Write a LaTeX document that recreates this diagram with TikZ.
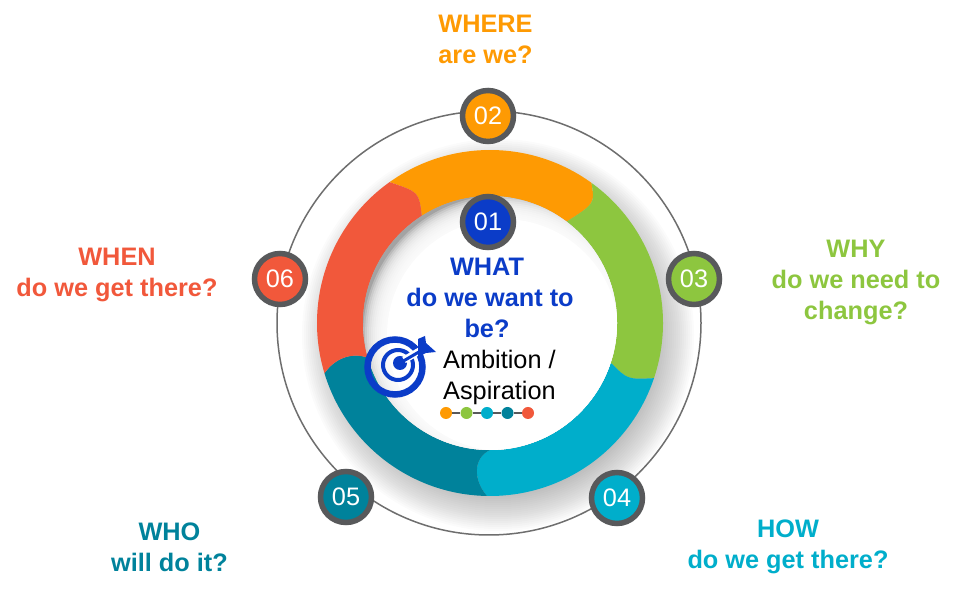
\documentclass[tikz,border=0pt]{standalone}
\usepackage{fontspec}
\setmainfont{Liberation Sans}
\definecolor{ringorange}{HTML}{FE9A03}
\definecolor{ringgreen}{HTML}{8DC63F}
\definecolor{ringblue}{HTML}{00AECB}
\definecolor{ringteal}{HTML}{00829B}
\definecolor{ringred}{HTML}{F1583B}
\definecolor{whatblue}{HTML}{0B3CC8}
\definecolor{edgegray}{HTML}{58595B}
\definecolor{orbitgray}{HTML}{6E6E6E}
\tikzset{
  badgenode/.style={
    circle, draw=edgegray, line width=5.5pt, minimum size=51pt, inner sep=0pt,
    text=white, font=\fontsize{25.3}{31}\selectfont
  },
  asknode/.style={
    align=center, inner sep=0pt,
    font=\fontsize{25.3}{31}\selectfont\bfseries
  },
  dotnode/.style={circle, minimum size=12pt, inner sep=0pt},
  chain/.style={draw=edgegray, line width=1.5pt}
}
% outer arc, rounded head, inner arc, hollow tail
\newcommand{\ringseg}[7]{
  \fill[#1] ([shift={(#2:173)}]c) arc[start angle=#2, end angle=#3, radius=173]
    .. controls (#5) .. ([shift={(#4:127)}]c)
    arc[start angle=#4, end angle=#6, radius=127]
    .. controls (#7) .. cycle;
}
\begin{document}
\begin{tikzpicture}[x=1pt,y=1pt]
  \useasboundingbox (0,0) rectangle (974,593);
  \coordinate (c) at (490,270);

  % Orbit
  \draw[orbitgray, line width=1.5pt] (489,270) circle[radius=212];

  % Soft shadow behind the ring
  \foreach \r in {150,152,...,196}
    \fill[black, opacity=0.014] (498,258) circle[radius=\r];

  % Ring
  \ringseg{ringorange}{125.5}{54.1}{52.9}{595,389.5}{122.5}{419,401}
  \ringseg{ringgreen}{54.1}{-18.6}{-18.2}{627.5,213.5}{52.9}{595,389.5}
  \ringseg{ringblue}{-18.6}{-91}{-90}{473,113) and (473,135}{-18.2}{627.5,213.5}
  \ringseg{ringteal}{-91}{-163.1}{-164.1}{335,235) and (352,241}{-90}{473,135) and (473,113}
  \ringseg{ringred}{196.9}{125.5}{122.5}{419,401}{195.9}{352,241) and (335,235}

  % Centre disc with its inner shadow
  \begin{scope}
    \clip (c) circle[radius=127];
    \fill[black!36] (c) circle[radius=127];
    \foreach \r in {140,138,...,118}
      \fill[white, opacity=0.25] (503,258) circle[radius=\r];
    \fill[white] (503,258) circle[radius=116];
  \end{scope}

  % Badges
  \node[badgenode, fill=whatblue] (n01) at (488,371) {01};
  \node[badgenode, fill=ringorange] (n02) at (488,477) {02};
  \node[badgenode, fill=ringgreen] (n03) at (694,314) {03};
  \node[badgenode, fill=ringblue] (n04) at (617,95) {04};
  \node[badgenode, fill=ringteal] (n05) at (346,96) {05};
  \node[badgenode, fill=ringred] (n06) at (280,314) {06};

  % Questions
  \node[asknode, text=ringorange] (where) at (485.5,554) {WHERE\\are we?};
  \node[asknode, text=ringgreen] (why) at (856,311) {WHY\\do we need to\\change?};
  \node[asknode, text=ringblue] (how) at (788,46.5) {HOW\\do we get there?};
  \node[asknode, text=ringteal] (who) at (169.5,46) {WHO\\will do it?};
  \node[asknode, text=ringred] (when) at (117,318) {WHEN\\do we get there?};
  \node[asknode, text=whatblue] (what) at (490,295) {\makebox[0pt]{\hspace*{-6pt}WHAT}\\do we want to\\\makebox[0pt]{\hspace*{-6pt}be?}};

  % Centre caption
  \node[align=left, inner sep=0pt, anchor=west, font=\fontsize{25.3}{31}\selectfont]
    (ambition) at (443,216) {Ambition /\\Aspiration};

  % Target
  \draw[whatblue, line width=6.5pt] (395,226) circle[radius=27.5];
  \draw[whatblue, line width=4pt] (398,228) circle[radius=15];
  \fill[whatblue] (400,230) circle[radius=7];
  \draw[white, line width=7pt] (404,233) -- (428,247);
  \draw[whatblue, line width=3pt] (400,230) -- (424,244);
  \fill[whatblue] (418,254) -- (425,257) -- (426,250) -- (436,241)
    -- (426,240) -- (418,236) -- cycle;

  % Dots
  \node[dotnode, fill=ringorange] (d1) at (446,180) {};
  \node[dotnode, fill=ringgreen] (d2) at (466.5,180) {};
  \node[dotnode, fill=ringblue] (d3) at (487,180) {};
  \node[dotnode, fill=ringteal] (d4) at (507.5,180) {};
  \node[dotnode, fill=ringred] (d5) at (528,180) {};
  \draw[chain] (d1) -- (d2);
  \draw[chain] (d2) -- (d3);
  \draw[chain] (d3) -- (d4);
  \draw[chain] (d4) -- (d5);

\end{tikzpicture}
\end{document}
